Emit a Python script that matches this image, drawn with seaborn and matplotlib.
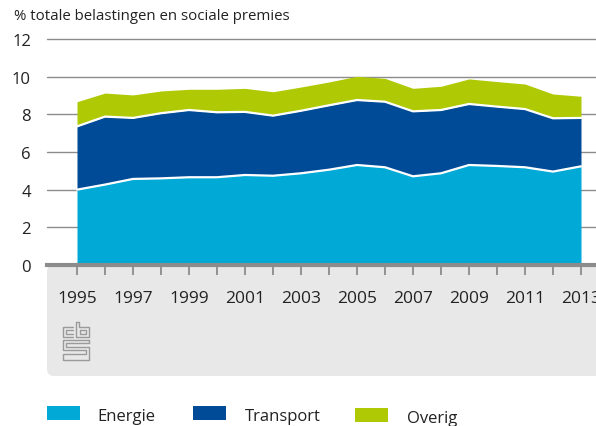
import numpy as np
import pandas as pd
import seaborn as sns
import matplotlib
matplotlib.use("Agg")
import matplotlib.pyplot as plt
from matplotlib.patches import FancyBboxPatch, Rectangle
from matplotlib.lines import Line2D

# Milieubelastingen als % van totale belastingen en sociale premies
years = list(range(1995, 2014))
energie = [4.00, 4.27, 4.57, 4.60, 4.66, 4.66, 4.78, 4.74, 4.87, 5.06,
           5.31, 5.19, 4.71, 4.87, 5.31, 5.26, 5.19, 4.96, 5.24]
transport = [3.36, 3.61, 3.24, 3.46, 3.57, 3.45, 3.35, 3.19, 3.32, 3.42,
             3.45, 3.48, 3.45, 3.36, 3.24, 3.15, 3.09, 2.83, 2.57]
overig = [1.31, 1.25, 1.22, 1.18, 1.10, 1.22, 1.25, 1.27, 1.26, 1.24,
          1.26, 1.24, 1.22, 1.26, 1.33, 1.33, 1.33, 1.29, 1.15]
series_names = ["Energie", "Transport", "Overig"]
colors = ["#00A9D6", "#004B98", "#AFCA05"]
y_ticks = [0, 2, 4, 6, 8, 10, 12]
x_label_years = list(range(1995, 2014, 2))
y_title = "% totale belastingen en sociale premies"

sns.set_theme(style="white")
plt.rcParams["font.family"] = ["Open Sans", "DejaVu Sans"]

W, H = 596, 427
fig = plt.figure(figsize=(W / 100, H / 100), dpi=100)

def px_axes(x0, y_top, x1, y_bot):
    return [x0 / W, 1 - y_bot / H, (x1 - x0) / W, (y_bot - y_top) / H]

# grey footer panel with rounded corner
panel = FancyBboxPatch((0.47, (H - 377) / 100), 6.5, (377 - 266) / 100,
                       boxstyle="round,pad=0,rounding_size=0.07",
                       transform=fig.dpi_scale_trans, facecolor="#E8E8E8",
                       edgecolor="none", zorder=-5)
fig.patches.append(panel)

ax = fig.add_axes(px_axes(47, 40, 596, 266))
ax.set_facecolor("none")
ax.set_zorder(1)

df = pd.DataFrame({"jaar": years, "Energie": energie,
                   "Transport": transport, "Overig": overig})
stack = df[series_names].cumsum(axis=1)

ax.stackplot(df["jaar"], [df[n] for n in series_names], colors=colors,
             linewidth=0, zorder=2)
# white separators between the bands
for n in series_names[:2]:
    sns.lineplot(x=df["jaar"], y=stack[n], ax=ax, color="white",
                 linewidth=1.6, zorder=3)

ax.set_xlim(1995 - 30 / 28, 2013 + 15 / 28)
ax.set_ylim(0, 12)
ax.set_xlabel("")
ax.set_ylabel("")

for v in y_ticks[1:]:
    ax.axhline(v, color="#8C8C8C", linewidth=1.0, zorder=1, clip_on=False)

ax.set_yticks(y_ticks)
ax.set_yticklabels([str(v) for v in y_ticks], fontsize=12, color="#222222")
ax.tick_params(axis="y", length=0, pad=11.5)
for lbl in ax.get_yticklabels():
    lbl.set_horizontalalignment("right")

ax.set_xticks(years)
ax.set_xticklabels([str(y) if y in x_label_years else "" for y in years],
                   fontsize=12.5, color="#222222")
ax.tick_params(axis="x", direction="out", length=7.5, width=1.3,
               color="#8C8C8C", pad=10.5, bottom=True)

for s in ["top", "right", "left"]:
    ax.spines[s].set_visible(False)
ax.spines["bottom"].set_color("#8C8C8C")
ax.spines["bottom"].set_linewidth(3.0)
ax.spines["bottom"].set_zorder(4)

fig.text(14 / W, 1 - 17 / H, y_title, fontsize=10.8, color="#222222",
         ha="left", va="center")

# cbs logo, drawn as outline strokes (pixel coords, y downward)
logo_paths = [
    [(73, 328), (63, 328), (63, 338), (73, 338)],
    [(73, 331), (66, 331), (66, 335), (73, 335)],
    [(76, 323), (76, 338), (89, 338), (89, 328), (79, 328), (79, 323), (76, 323)],
    [(80, 331), (86, 331), (86, 335), (80, 335), (80, 331)],
    [(89, 341), (63, 341), (63, 351), (86, 351), (86, 355), (63, 355),
     (63, 361), (89, 361), (89, 348), (66, 348), (66, 344), (89, 344), (89, 341)],
]
for path in logo_paths:
    xs = [p[0] / W for p in path]
    ys = [1 - p[1] / H for p in path]
    fig.add_artist(Line2D(xs, ys, color="#9A9A9A", linewidth=1.0,
                          transform=fig.transFigure))

# legend
legend_pos = [(47, 97), (193, 245), (355, 407)]
legend_y = [414, 414, 416]
for name, col, (sx, tx), ly in zip(series_names, colors, legend_pos, legend_y):
    fig.patches.append(Rectangle((sx / W, 1 - (ly + 7) / H), 33 / W, 14 / H,
                                 transform=fig.transFigure, facecolor=col,
                                 edgecolor="none"))
    fig.text(tx / W, 1 - (ly + 3.5) / H, name, fontsize=12, color="#222222",
             ha="left", va="center")

fig.savefig("out.png", dpi=100)
